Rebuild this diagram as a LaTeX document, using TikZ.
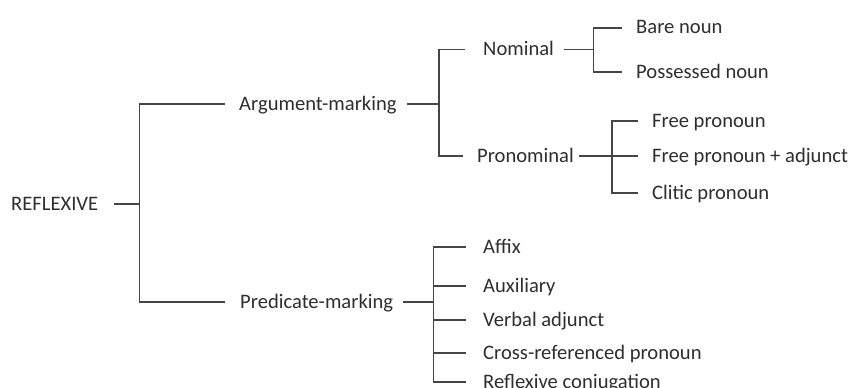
\documentclass[tikz,border=0pt]{standalone}
\usepackage{fontspec}
\setmainfont{Carlito}
\definecolor{ink}{HTML}{2E2E2E}
\definecolor{rule}{HTML}{454545}
\begin{document}
\begin{tikzpicture}[x=1pt,y=-1pt,
  lbl/.style={anchor=west,inner sep=0pt,text height=16pt,text depth=4pt,
    text=ink,font=\fontsize{20.6}{25}\selectfont},
  link/.style={draw=rule,line width=1.8pt,line join=miter}]
\useasboundingbox (0,0) rectangle (849,388);

% labels
\node[lbl] (root)  at (11,204)   {REFLEXIVE};
\node[lbl] (arg)   at (239,104)  {Argument-marking};
\node[lbl] (pred)  at (240,302)  {Predicate-marking};
\node[lbl] (nom)   at (483,49.5) {Nominal};
\node[lbl] (pron)  at (477,156)  {Pronominal};
\node[lbl] (bare)  at (636,28)   {Bare noun};
\node[lbl] (poss)  at (636,72)   {Possessed noun};
\node[lbl] (free)  at (652,121)  {Free pronoun};
\node[lbl] (fadj)  at (652,156)  {Free pronoun + adjunct};
\node[lbl] (clit)  at (652,193)  {Clitic pronoun};
\node[lbl] (affix) at (483,247)  {Affix};
\node[lbl] (aux)   at (483,286)  {Auxiliary};
\node[lbl] (verb)  at (483,320)  {Verbal adjunct};
\node[lbl] (cross) at (483,353)  {Cross-referenced pronoun};
\node[lbl] (rconj) at (483,382)  {Reflexive conjugation};

% bracket spines
\coordinate (bRoot) at (139.5,0);
\coordinate (bArg)  at (439,0);
\coordinate (bNom)  at (593.5,0);
\coordinate (bPron) at (612,0);
\coordinate (bPred) at (433.5,0);

% REFLEXIVE
\draw[link] ([xshift=16pt]root.east) -- (bRoot |- root.west);
\draw[link] ([xshift=-14pt]arg.west) -- (bRoot |- arg.west)
  -- (bRoot |- pred.west) -- ([xshift=-15pt]pred.west);

% Argument-marking
\draw[link] ([xshift=10pt]arg.east) -- (bArg |- arg.west);
\draw[link] ([xshift=-18pt]nom.west) -- (bArg |- nom.west)
  -- (bArg |- pron.west) -- ([xshift=-14pt]pron.west);

% Nominal
\draw[link] ([xshift=10pt]nom.east) -- (bNom |- nom.west);
\draw[link] ([xshift=-14pt]bare.west) -- (bNom |- bare.west)
  -- (bNom |- poss.west) -- ([xshift=-14pt]poss.west);

% Pronominal
\draw[link] ([xshift=5pt]pron.east) -- ([xshift=-14pt]fadj.west);
\draw[link] ([xshift=-14pt]free.west) -- (bPron |- free.west)
  -- (bPron |- clit.west) -- ([xshift=-14pt]clit.west);

% Predicate-marking
\draw[link] ([xshift=10pt]pred.east) -- (bPred |- pred.west);
\draw[link] ([xshift=-17pt]affix.west) -- (bPred |- affix.west)
  -- (bPred |- rconj.west) -- ([xshift=-17pt]rconj.west);
\draw[link] ([xshift=-17pt]aux.west) -- (bPred |- aux.west);
\draw[link] ([xshift=-17pt]verb.west) -- (bPred |- verb.west);
\draw[link] ([xshift=-17pt]cross.west) -- (bPred |- cross.west);
\end{tikzpicture}
\end{document}
